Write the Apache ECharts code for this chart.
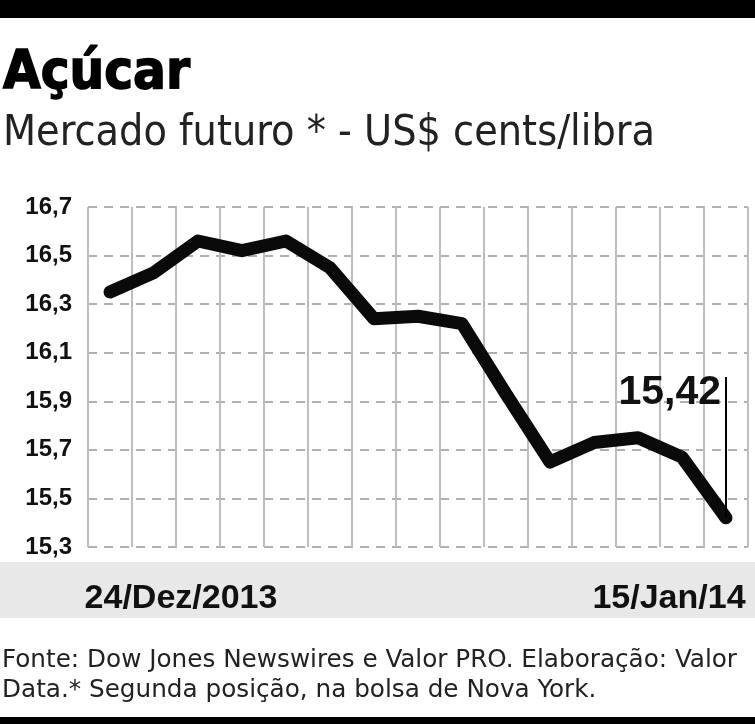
<!DOCTYPE html>
<html>
<head>
<meta charset="utf-8">
<script src="https://cdn.jsdelivr.net/npm/echarts@6/dist/echarts.min.js"></script>
<style>
  html, body { margin: 0; padding: 0; background: #fff; }
  #chart { width: 755px; height: 724px; }
</style>
</head>
<body>
<div id="chart"></div>
<script>
// pregão a pregão, 24/12/2013 a 15/01/2014
const dates = ['24/Dez/2013', '26/Dez', '27/Dez', '30/Dez', '31/Dez', '02/Jan', '03/Jan',
  '06/Jan', '07/Jan', '08/Jan', '09/Jan', '10/Jan', '13/Jan', '14/Jan', '15/Jan/14'];
const prices = [16.35, 16.43, 16.56, 16.52, 16.56, 16.45, 16.24, 16.25, 16.22, 15.93,
  15.65, 15.73, 15.75, 15.67, 15.42];
const yTicks = [15.3, 15.5, 15.7, 15.9, 16.1, 16.3, 16.5, 16.7];

const titleText = 'Açúcar';
const subtitleText = 'Mercado futuro * - US$ cents/libra';
const footerLines = ['Fonte: Dow Jones Newswires e Valor PRO. Elaboração: Valor',
  'Data.* Segunda posição, na bolsa de Nova York.'];

const sans = "'Liberation Sans', Arial, sans-serif";
const narrow = "'Liberation Sans Narrow', 'DejaVu Sans Condensed', 'Liberation Sans', sans-serif";

const chart = echarts.init(document.getElementById('chart'));

// largura do texto para comprimir as fontes (o original usa fonte condensada)
const ctx = document.createElement('canvas').getContext('2d');
function fitScale(text, font, width) {
  ctx.font = font;
  return width / ctx.measureText(text).width;
}

const titleFont = 'bold 54px ' + narrow;
const subFont = '43px ' + narrow;
const footFont = '25px ' + narrow;
const footScale = fitScale(footerLines[0], footFont, 735);

function fmt(v) {
  return v.toFixed(2).replace('.', ',');
}

const last = dates.length - 1;

var option = {
  animation: false,
  backgroundColor: '#fff',
  grid: { left: 88, right: 7, top: 207, bottom: 177 },
  graphic: [
    { type: 'rect', z: -10, shape: { x: 0, y: 0, width: 755, height: 18 }, style: { fill: '#000' } },
    { type: 'rect', z: -10, shape: { x: 0, y: 562, width: 755, height: 56 }, style: { fill: '#e8e8e8' } },
    { type: 'rect', z: -10, shape: { x: 0, y: 717, width: 755, height: 7 }, style: { fill: '#000' } },
    {
      type: 'text', x: 3, y: 74, scaleX: fitScale(titleText, titleFont, 187),
      style: { text: titleText, font: titleFont, fill: '#000', stroke: '#000', lineWidth: 1.5, verticalAlign: 'middle' }
    },
    {
      type: 'text', x: 3, y: 134, scaleX: fitScale(subtitleText, subFont, 652),
      style: { text: subtitleText, font: subFont, fill: '#222', verticalAlign: 'middle' }
    },
    {
      type: 'text', x: 2, y: 660, scaleX: footScale,
      style: { text: footerLines[0], font: footFont, fill: '#222', verticalAlign: 'middle' }
    },
    {
      type: 'text', x: 2, y: 690, scaleX: footScale,
      style: { text: footerLines[1], font: footFont, fill: '#222', verticalAlign: 'middle' }
    }
  ],
  xAxis: {
    type: 'category',
    data: dates,
    boundaryGap: true,
    axisLine: { show: false },
    axisTick: { show: false },
    splitLine: { show: true, lineStyle: { color: '#bdbdbd', width: 2 } },
    axisLabel: {
      interval: 0,
      margin: 35,
      formatter: function (v, i) {
        if (i === 0) return '{a|' + v + '}';
        if (i === last) return '{b|' + v + '}';
        return '';
      },
      rich: {
        a: { fontSize: 34, fontWeight: 'bold', fontFamily: sans, color: '#111', padding: [0, 0, 0, 142] },
        b: { fontSize: 34, fontWeight: 'bold', fontFamily: sans, color: '#111', padding: [0, 114, 0, 0] }
      }
    }
  },
  yAxis: {
    type: 'value',
    min: 15.3,
    max: 16.7,
    axisLine: { show: false },
    axisTick: { show: false, customValues: yTicks },
    axisLabel: {
      customValues: yTicks,
      margin: 16,
      fontSize: 24,
      fontWeight: 'bold',
      fontFamily: sans,
      color: '#111',
      formatter: function (v) { return v.toFixed(1).replace('.', ','); }
    },
    splitLine: { lineStyle: { color: '#b0b0b0', width: 2, type: [9, 7] } }
  },
  series: [{
    type: 'line',
    data: prices,
    symbol: 'none',
    lineStyle: { color: '#0a0a0a', width: 13, join: 'round', cap: 'round' },
    markLine: {
      silent: true,
      symbol: 'none',
      label: { show: false },
      lineStyle: { color: '#000', width: 2, type: 'solid' },
      data: [[{ coord: [dates[last], prices[last]] }, { coord: [dates[last], 16.0] }]]
    },
    markPoint: {
      silent: true,
      symbol: 'circle',
      symbolSize: 0,
      data: [{ coord: [dates[last], 16.0], value: prices[last] }],
      label: {
        show: true,
        position: 'left',
        distance: 5,
        offset: [0, 16],
        fontSize: 41,
        fontWeight: 'bold',
        fontFamily: sans,
        color: '#111',
        formatter: function (p) { return fmt(p.value); }
      }
    }
  }]
};

chart.setOption(option);
</script>
</body>
</html>
